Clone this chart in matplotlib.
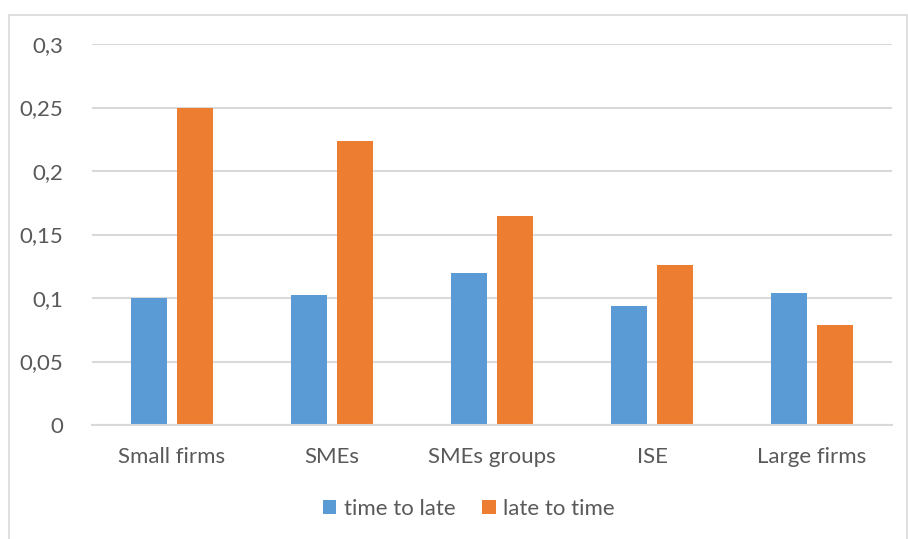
import matplotlib.pyplot as plt
import matplotlib.patches as mpatches
import numpy as np

categories = ["Small firms", "SMEs", "SMEs groups", "ISE", "Large firms"]
time_to_late = [0.100, 0.102, 0.1195, 0.094, 0.104]
late_to_time = [0.250, 0.224, 0.1645, 0.126, 0.0786]
yticks = [0, 0.05, 0.1, 0.15, 0.2, 0.25, 0.3]
ytick_labels = ["0", "0,05", "0,1", "0,15", "0,2", "0,25", "0,3"]

blue = "#5b9bd5"
orange = "#ed7d31"
grey_text = "#595959"
grid_col = "#d9d9d9"

plt.rcParams["font.family"] = ["Lato", "DejaVu Sans"]

fig = plt.figure(figsize=(9.08, 5.39), dpi=100)
W, H = 908, 539
ax = fig.add_axes([92 / W, (H - 425) / H, 800 / W, 381 / H])

# outer chart frame
fig.patches.append(mpatches.Rectangle((9 / W, -0.01), (W - 10) / W, (H - 15) / H + 0.01,
                                      transform=fig.transFigure, fill=False,
                                      edgecolor=grid_col, linewidth=1.2))

x = np.arange(len(categories))
w = 0.225
off = 0.144
ax.bar(x - off, time_to_late, w, color=blue, label="time to late", zorder=3)
ax.bar(x + off, late_to_time, w, color=orange, label="late to time", zorder=3)

ax.set_xlim(-0.5, len(categories) - 0.5)
ax.set_ylim(0, 0.3)
ax.set_yticks(yticks)
ax.set_yticklabels(ytick_labels)
ax.set_xticks(x)
ax.set_xticklabels(categories)
ax.tick_params(axis="both", length=0, labelsize=16, colors=grey_text)
ax.tick_params(axis="y", pad=21)
ax.tick_params(axis="x", pad=16)
ax.yaxis.grid(True, color=grid_col, linewidth=1.5, zorder=0)
for s in ["top", "right", "left"]:
    ax.spines[s].set_visible(False)
ax.spines["bottom"].set_color(grid_col)
ax.spines["bottom"].set_linewidth(1.5)
ax.spines["bottom"].set_zorder(4)

fig.legend(loc="center", bbox_to_anchor=(469 / W, (H - 509) / H), ncol=2,
           frameon=False, fontsize=16, labelcolor=grey_text,
           handlelength=0.6, handleheight=0.6, handletextpad=0.35, columnspacing=1.2)

fig.savefig("out.png", dpi=100)
